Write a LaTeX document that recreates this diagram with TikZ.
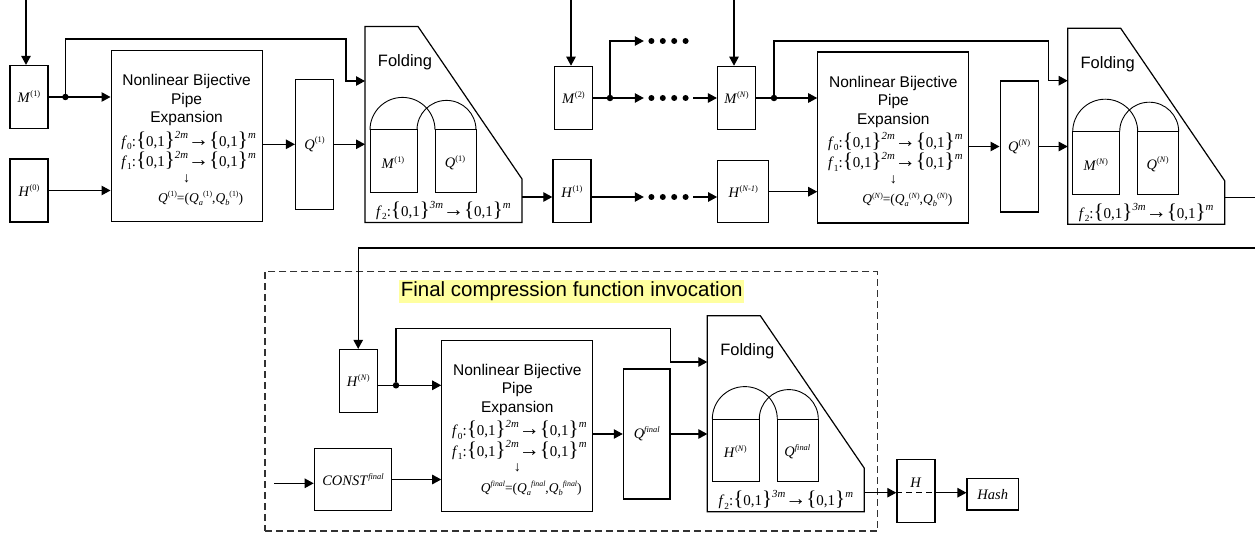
\documentclass[tikz,border=0pt]{standalone}
\usepackage{fontspec}
\setmainfont{Liberation Serif}
\setsansfont{Liberation Sans}
\usetikzlibrary{arrows.meta,calc}

\definecolor{titlehl}{RGB}{255,255,160}
\definecolor{framegray}{RGB}{50,50,50}

\makeatletter
\newcommand{\sps}[1]{\raisebox{0.42em}{\fontsize{\fpeval{0.58*\f@size}}{1}\selectfont #1}}
\newcommand{\spm}[1]{\raisebox{0.55em}{\fontsize{\fpeval{0.72*\f@size}}{1}\selectfont #1}}
\newcommand{\sbs}[1]{\raisebox{-0.22em}{\fontsize{\fpeval{0.62*\f@size}}{1}\selectfont #1}}
\makeatother
\newcommand{\bigch}[1]{\smash{\fontsize{21}{1}\selectfont #1}}
\newcommand{\reg}[2]{\textit{#1}\sps{#2}}
\newcommand{\zeroone}{\bigch{\{}0,1\bigch{\}}}
\newcommand{\fmap}[2]{\textit{f}\sbs{#1}:\zeroone\spm{\textit{#2}}\bigch{→}\zeroone\spm{\textit{m}}}
\newcommand{\qpair}[1]{\textit{Q}\sps{#1}=(\textit{Q}\sbs{\textit{a}}\sps{#1},\textit{Q}\sbs{\textit{b}}\sps{#1})}
\newcommand{\sansline}{\sffamily\fontsize{15.5}{18.5}\selectfont}
\newcommand{\pipetext}[1]{{\sansline\rule{0pt}{19pt}Nonlinear Bijective}\\{\sansline Pipe}\\{\sansline Expansion}\\[4pt]
  \hspace*{4pt}\fmap{0}{2m}\\[0.5pt]\hspace*{4pt}\fmap{1}{2m}\\[-3pt]{\fontsize{14}{16}\selectfont ↓}\\[2pt]
  \hspace*{28pt}{\fontsize{13.5}{16}\selectfont\qpair{#1}}}

\tikzset{
  blockline/.style={draw,line width=1.2pt},
  pipeline/.style={draw,line width=0.9pt},
  conn/.style={line width=1.1pt},
  arr/.style={conn,-{Triangle[length=9pt,width=9.5pt]}},
  regbox/.style={blockline,minimum width=38pt,minimum height=63pt,inner sep=0pt,
    font=\fontsize{14.5}{17}\selectfont},
  reglabel/.style={inner sep=0pt,font=\fontsize{14.5}{17}\selectfont},
  nbpebox/.style={blockline,minimum width=151pt,minimum height=171pt,inner sep=0pt,
    align=center,font=\fontsize{15}{18.5}\selectfont},
  foldtitle/.style={inner sep=0pt,font=\sffamily\fontsize{16.5}{19}\selectfont},
  mapfont/.style={inner sep=0pt,font=\fontsize{15}{18.5}\selectfont},
  junction/.style={circle,fill,inner sep=0pt,minimum size=6.5pt},
  dotgap/.style={inner sep=0pt,minimum width=49pt,minimum height=6pt},
  finalframe/.style={draw=framegray,line width=1.2pt,dash pattern=on 7pt off 4pt},
  titlebox/.style={fill=titlehl,inner xsep=1.5pt,inner ysep=2.2pt,font=\sffamily\fontsize{20.5}{24}\selectfont},
  pics/foldunit/.style 2 args={code={
    \draw[blockline] (0,0) -- (53,0) -- (157,-152.5) -- (157,-196) -- (0,-196) -- cycle;
    \coordinate (-nw) at (0,0);
    \coordinate (-e) at (157,-170);
    \node[foldtitle] (-title) at (40,-36) {Folding};
    \draw[pipeline] (5,-166) rectangle (52,-103.4);
    \draw[pipeline] (70,-166) rectangle (111,-103.4);
    \draw[pipeline] (5,-103.4) arc[start angle=180,end angle=0,radius=32.5];
    \draw[pipeline] (52,-103.4) arc[start angle=180,end angle=0,radius=29.5];
    \node[reglabel] (-left) at (28,-136) {#1};
    \node[reglabel] (-right) at (90,-136) {#2};
    \node[mapfont] (-map) at (78.5,-184) {\fmap{2}{3m}};
  }}
}

\begin{document}
\begin{tikzpicture}[x=1pt,y=1pt]
\useasboundingbox (0,0) rectangle (1255,-537);

% first compression function
\node[regbox] (m1) at (29,-97) {\reg{M}{(1)}};
\node[regbox] (h0) at (29,-190.5) {\reg{H}{(0)}};
\node[nbpebox] (nbpe1) at (186.6,-136.2) {\pipetext{(1)}};
\node[regbox,minimum height=130pt] (q1) at (314.5,-144.3) {\reg{Q}{(1)}};
\pic (fold1) at (365,-26.5) {foldunit={\reg{M}{(1)}}{\reg{Q}{(1)}}};
\coordinate (m1in) at (26,0);
\coordinate (j1turn) at (346,-39);
\coordinate (f1top) at (346,-81);
\draw[arr] (m1in) -- (m1in |- m1.north);
\draw[arr] (m1) -- (m1 -| nbpe1.west);
\node[junction] (j1) at (65.4,-97) {};
\draw[arr] (j1) |- (j1turn) -- (f1top) -- (f1top -| fold1-nw);
\draw[arr] (h0) -- (h0 -| nbpe1.west);
\draw[arr] (nbpe1.east |- q1.west) -- (q1.west);
\draw[arr] (q1.east) -- (q1.east -| fold1-nw);

% message blocks 2..N
\coordinate (hrow) at (0,-197);
\node[regbox] (m2) at (573.5,-97.8) {\reg{M}{(2)}};
\node[regbox] (h1) at (571.9,-191.3) {\reg{H}{(1)}};
\node[regbox] (mN) at (736.5,-97.8) {\reg{M}{(\textit{N})}};
\node[regbox,minimum width=51pt,minimum height=62pt] (hN1) at (743.2,-191.7) {\reg{H}{(\textit{N-1})}};
\node[dotgap] (dtop) at (668.5,-41) {};
\node[dotgap] (dmid) at (668.5,-98) {};
\node[dotgap] (dlow) at (668.5,-197) {};
\foreach \d in {dtop,dmid,dlow}
  \foreach \k in {-1.5,-0.5,0.5,1.5}
    \fill ($(\d)+(\k*11.4,0)$) circle (3);
\coordinate (m2in) at (571,0);
\coordinate (mNin) at (734,0);
\draw[arr] (m2in) -- (m2in |- m2.north);
\draw[arr] (mNin) -- (mNin |- mN.north);
\draw[arr] (m2.east |- dmid) -- (dmid.west);
\node[junction] (j2) at (610,-98) {};
\draw[arr] (j2) |- (dtop.west);
\draw[arr] (dmid.east) -- (dmid.east -| mN.west);
\draw[arr] (fold1-e |- hrow) -- (h1.west |- hrow);
\draw[arr] (h1.east |- hrow) -- (dlow.west);
\draw[arr] (dlow.east) -- (dlow.east -| hN1.west);

% N-th compression function
\node[nbpebox] (nbpeN) at (893.3,-137.5) {\pipetext{(\textit{N})}};
\node[regbox,minimum height=131pt] (qN) at (1019.1,-146.5) {\reg{Q}{(\textit{N})}};
\pic (foldN) at (1067.7,-28.3) {foldunit={\reg{M}{(\textit{N})}}{\reg{Q}{(\textit{N})}}};
\coordinate (jNturn) at (1048.3,-41);
\coordinate (fNtop) at (1048.3,-80.7);
\coordinate (rightout) at (1255,-197.7);
\draw[arr] (mN.east |- dmid) -- (nbpeN.west |- dmid);
\node[junction] (jN) at (774,-98) {};
\draw[arr] (jN) |- (jNturn) -- (fNtop) -- (fNtop -| foldN-nw);
\draw[arr] (hN1.east) -- (hN1.east -| nbpeN.west);
\draw[arr] (nbpeN.east |- qN.west) -- (qN.west);
\draw[arr] (qN.east) -- (qN.east -| foldN-nw);
\draw[conn] (foldN-e |- rightout) -- (rightout);

% final compression function invocation
\node[finalframe,minimum width=612.5pt,minimum height=259.3pt] (finalbox) at (571.25,-401.35) {};
\node[titlebox] (ftitle) at (571.7,-291.7) {Final compression function invocation};
\coordinate (loopin) at (1255,-248);
\coordinate (hFrow) at (0,-385.3);
\coordinate (constin) at (274,-483.3);
\coordinate (jFturn) at (670.7,-328.3);
\coordinate (fFtop) at (670.7,-362);
\coordinate (outrow) at (0,-492.7);
\node[regbox] (hN) at (358.2,-381) {\reg{H}{(\textit{N})}};
\node[regbox,minimum width=77.4pt,minimum height=62.4pt] (constF) at (353,-479.5) {\reg{CONST}{\textit{final}}};
\node[nbpebox] (nbpeF) at (517.3,-425.7) {\pipetext{\textit{final}}};
\node[regbox,minimum width=46.7pt,minimum height=130pt] (qF) at (646.7,-434) {\reg{Q}{\textit{final}}};
\pic (foldF) at (707.3,-315.7) {foldunit={\reg{H}{(\textit{N})}}{\reg{Q}{\textit{final}}}};
\node[regbox] (hout) at (915.9,-490.7) {};
\node[reglabel] (houtlbl) at ($(hout)+(0,8)$) {\textit{H}};
\node[regbox,minimum width=51.3pt,minimum height=31.7pt] (hash) at (992.7,-494.2) {\textit{Hash}};
\draw[arr] (loopin) -| (hN.north);
\draw[arr] (hN.east |- hFrow) -- (nbpeF.west |- hFrow);
\node[junction] (jF) at (396,-385.3) {};
\draw[arr] (jF) |- (jFturn) -- (fFtop) -- (fFtop -| foldF-nw);
\draw[arr] (constin) -- (constin -| constF.west);
\draw[arr] (constF.east) -- (constF.east -| nbpeF.west);
\draw[arr] (nbpeF.east |- qF.west) -- (qF.west);
\draw[arr] (qF.east) -- (qF.east -| foldF-nw);
\draw[arr] (foldF-e |- outrow) -- (hout.west |- outrow);
\draw[conn,dash pattern=on 6pt off 4pt] (hout.west |- outrow) -- (hout.east |- outrow);
\draw[arr] (hout.east |- outrow) -- (hash.west |- outrow);
\end{tikzpicture}
\end{document}
